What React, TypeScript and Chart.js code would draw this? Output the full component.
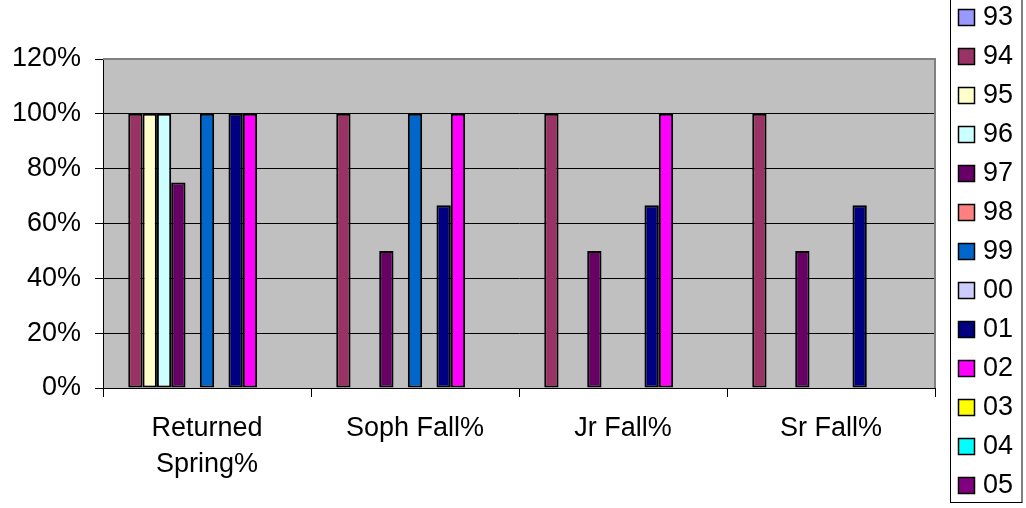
import React, { useEffect, useRef } from "react";
import { Chart, registerables } from "chart.js";

Chart.register(...registerables);

const categories: (string | string[])[] = [["Returned", "Spring%"], "Soph Fall%", "Jr Fall%", "Sr Fall%"];
const seriesLabels = ["93", "94", "95", "96", "97", "98", "99", "00", "01", "02", "03", "04", "05"];
const seriesColors = [
  "#9999FF", "#993366", "#FFFFCC", "#CCFFFF", "#660066", "#FF8080", "#0066CC",
  "#CCCCFF", "#000080", "#FF00FF", "#FFFF00", "#00FFFF", "#800080",
];
const s93: (number | null)[] = [null, null, null, null];
const s94: (number | null)[] = [100, 100, 100, 100];
const s95: (number | null)[] = [100, null, null, null];
const s96: (number | null)[] = [100, null, null, null];
const s97: (number | null)[] = [75, 50, 50, 50];
const s98: (number | null)[] = [null, null, null, null];
const s99: (number | null)[] = [100, 100, null, null];
const s00: (number | null)[] = [null, null, null, null];
const s01: (number | null)[] = [100, 66.7, 66.7, 66.7];
const s02: (number | null)[] = [100, 100, 100, null];
const s03: (number | null)[] = [null, null, null, null];
const s04: (number | null)[] = [null, null, null, null];
const s05: (number | null)[] = [null, null, null, null];
const seriesValues = [s93, s94, s95, s96, s97, s98, s99, s00, s01, s02, s03, s04, s05];
const yTicksMax = 120;
const yTicksStep = 20;

const FONT = "'Liberation Sans', Arial, sans-serif";
const FS = 27;

const plotBg = {
  id: "plotBg",
  beforeDraw(chart: any) {
    const { ctx, chartArea: a } = chart;
    ctx.save();
    ctx.fillStyle = "#C0C0C0";
    ctx.fillRect(a.left, a.top, a.right - a.left, a.bottom - a.top);
    ctx.restore();
  },
  beforeDatasetsDraw(chart: any) {
    const { ctx, chartArea: a } = chart;
    ctx.save();
    ctx.strokeStyle = "#808080";
    ctx.lineWidth = 2;
    ctx.beginPath();
    ctx.moveTo(a.left, a.top);
    ctx.lineTo(a.right, a.top);
    ctx.lineTo(a.right, a.bottom);
    ctx.stroke();
    ctx.restore();
  },
};

const boxLegend = {
  id: "boxLegend",
  afterDraw(chart: any) {
    const { ctx } = chart;
    ctx.save();
    ctx.strokeStyle = "#000";
    ctx.lineWidth = 1;
    ctx.strokeRect(950.5, -1, 71.5, 503.5);
    ctx.font = `${FS}px ${FONT}`;
    ctx.textBaseline = "middle";
    ctx.textAlign = "left";
    chart.data.datasets.forEach((ds: any, i: number) => {
      const y = 9.5 + i * 39;
      ctx.fillStyle = ds.backgroundColor;
      ctx.fillRect(958.5, y, 16, 16);
      ctx.strokeStyle = "#000";
      ctx.lineWidth = 1.5;
      ctx.strokeRect(958.5, y, 16, 16);
      ctx.fillStyle = "#000";
      ctx.fillText(ds.label, 983, y + 8.5);
    });
    ctx.restore();
  },
};

export default function App() {
  const ref = useRef<HTMLCanvasElement | null>(null);
  useEffect(() => {
    document.body.style.margin = "0";
    const canvas = ref.current!;
    const chart = new Chart(canvas, {
      type: "bar",
      data: {
        labels: categories as any,
        datasets: seriesLabels.map((label, i) => ({
          label,
          data: seriesValues[i],
          backgroundColor: seriesColors[i],
          borderColor: "#000",
          borderWidth: 2,
          borderSkipped: false,
          barPercentage: 1,
          categoryPercentage: 0.895,
        })),
      },
      options: {
        responsive: false,
        animation: false,
        devicePixelRatio: 1,
        layout: { padding: { left: 0, top: 59, right: 91, bottom: 0 } },
        plugins: { legend: { display: false }, tooltip: { enabled: false } },
        scales: {
          x: {
            offset: true,
            grid: { display: true, drawOnChartArea: false, drawTicks: true, tickLength: 9, color: "#000", offset: true },
            border: { display: true, color: "#000", width: 1 },
            ticks: { color: "#000", font: { family: FONT, size: FS, lineHeight: 1.33 }, padding: 14, maxRotation: 0, autoSkip: false },
            afterFit: (s: any) => { s.height = 120; },
          },
          y: {
            min: 0,
            max: yTicksMax,
            ticks: {
              stepSize: yTicksStep,
              color: "#000",
              font: { family: FONT, size: FS },
              padding: 14,
              callback: (v: any) => `${v}%`,
            },
            grid: { color: "#000", lineWidth: 1, tickLength: 8, drawTicks: true },
            border: { display: true, color: "#000", width: 1 },
            afterFit: (s: any) => { s.width = 103; },
          },
        },
      },
      plugins: [plotBg, boxLegend],
    });
    return () => chart.destroy();
  }, []);
  return (
    <div style={{ position: "absolute", left: 0, top: 0, width: 1026, height: 508 }}>
      <canvas ref={ref} width={1026} height={508} style={{ display: "block" }} />
    </div>
  );
}
